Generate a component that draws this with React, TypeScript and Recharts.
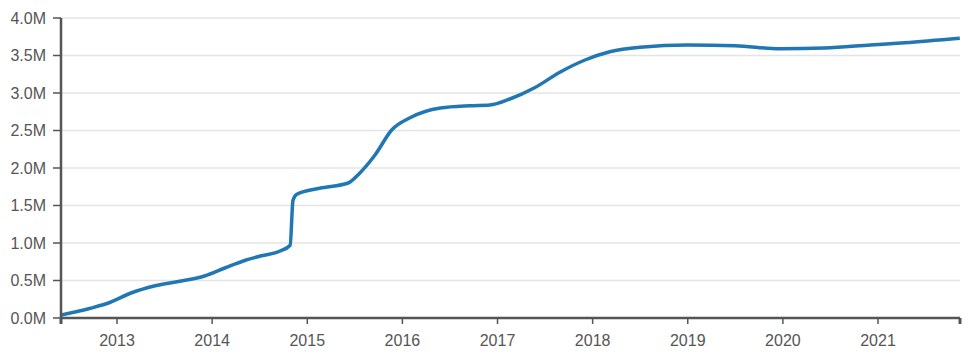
import { CartesianGrid, Line, LineChart, XAxis, YAxis } from "recharts";

// decimal years and cumulative totals
const years = [
  2012.41, 2012.72, 2012.93, 2013.14, 2013.4, 2013.66, 2013.92, 2014.14, 2014.35, 2014.52,
  2014.71, 2014.82, 2014.85, 2014.89, 2015.13, 2015.43, 2015.55, 2015.71, 2015.89, 2016.08,
  2016.4, 2016.71, 2016.92, 2017.13, 2017.39, 2017.66, 2017.92, 2018.18, 2018.5, 2019.0,
  2019.5, 2019.97, 2020.44, 2020.92, 2021.28, 2021.86,
];
const totals = [
  40000, 130000, 210000, 330000, 430000, 490000, 560000, 670000, 770000, 830000,
  890000, 970000, 1570000, 1650000, 1730000, 1800000, 1930000, 2170000, 2510000, 2670000,
  2800000, 2830000, 2840000, 2920000, 3070000, 3280000, 3440000, 3550000, 3610000, 3640000,
  3630000, 3590000, 3600000, 3640000, 3670000, 3730000,
];

const yearTicks = [2013, 2014, 2015, 2016, 2017, 2018, 2019, 2020, 2021];
const valueTicks = [0, 500000, 1000000, 1500000, 2000000, 2500000, 3000000, 3500000, 4000000];
const xDomain = [2012.411, 2021.862];

const data = years.map((year, i) => ({ year, total: totals[i] }));

const AXIS = "#555";
const FONT = "'Liberation Sans', Arial, sans-serif";

const fmtM = (v: number) => (v / 1e6).toFixed(1) + "M";

function YTick(props: any) {
  const { x, y, payload } = props;
  return (
    <g>
      <line x1={x - 8} x2={x} y1={y} y2={y} stroke={AXIS} strokeWidth={1.5} />
      <text x={x - 15} y={y} dy="0.35em" textAnchor="end" fill={AXIS} fontSize={16} fontFamily={FONT}>
        {fmtM(payload.value)}
      </text>
    </g>
  );
}

function XTick(props: any) {
  const { x, y, payload } = props;
  const isEdge = !Number.isInteger(payload.value);
  return (
    <g>
      <line x1={x} x2={x} y1={y} y2={y + 6} stroke={AXIS} strokeWidth={isEdge ? 3 : 1.5} />
      {!isEdge && (
        <text x={x} y={y + 28} textAnchor="middle" fill={AXIS} fontSize={16} fontFamily={FONT}>
          {payload.value}
        </text>
      )}
    </g>
  );
}

export default function App() {
  return (
    <div style={{ position: "absolute", left: 0, top: 0, background: "#fff" }}>
      <LineChart width={972} height={358} data={data} margin={{ top: 18, right: 12, bottom: 0, left: 0 }}>
        <CartesianGrid vertical={false} stroke="#e4e4e4" strokeWidth={1.5} />
        <XAxis
          dataKey="year"
          type="number"
          domain={xDomain}
          ticks={[xDomain[0], ...yearTicks, xDomain[1]]}
          interval={0}
          height={40}
          tickSize={0}
          tickMargin={0}
          tickLine={false}
          axisLine={{ stroke: AXIS, strokeWidth: 2.5 }}
          tick={<XTick />}
          allowDataOverflow
        />
        <YAxis
          type="number"
          domain={[0, 4000000]}
          ticks={valueTicks}
          interval={0}
          width={61}
          tickSize={0}
          tickMargin={0}
          tickLine={false}
          axisLine={{ stroke: AXIS, strokeWidth: 2.5 }}
          tick={<YTick />}
        />
        <Line
          type="monotone"
          dataKey="total"
          stroke="#2077b4"
          strokeWidth={3.5}
          dot={false}
          isAnimationActive={false}
        />
      </LineChart>
    </div>
  );
}
